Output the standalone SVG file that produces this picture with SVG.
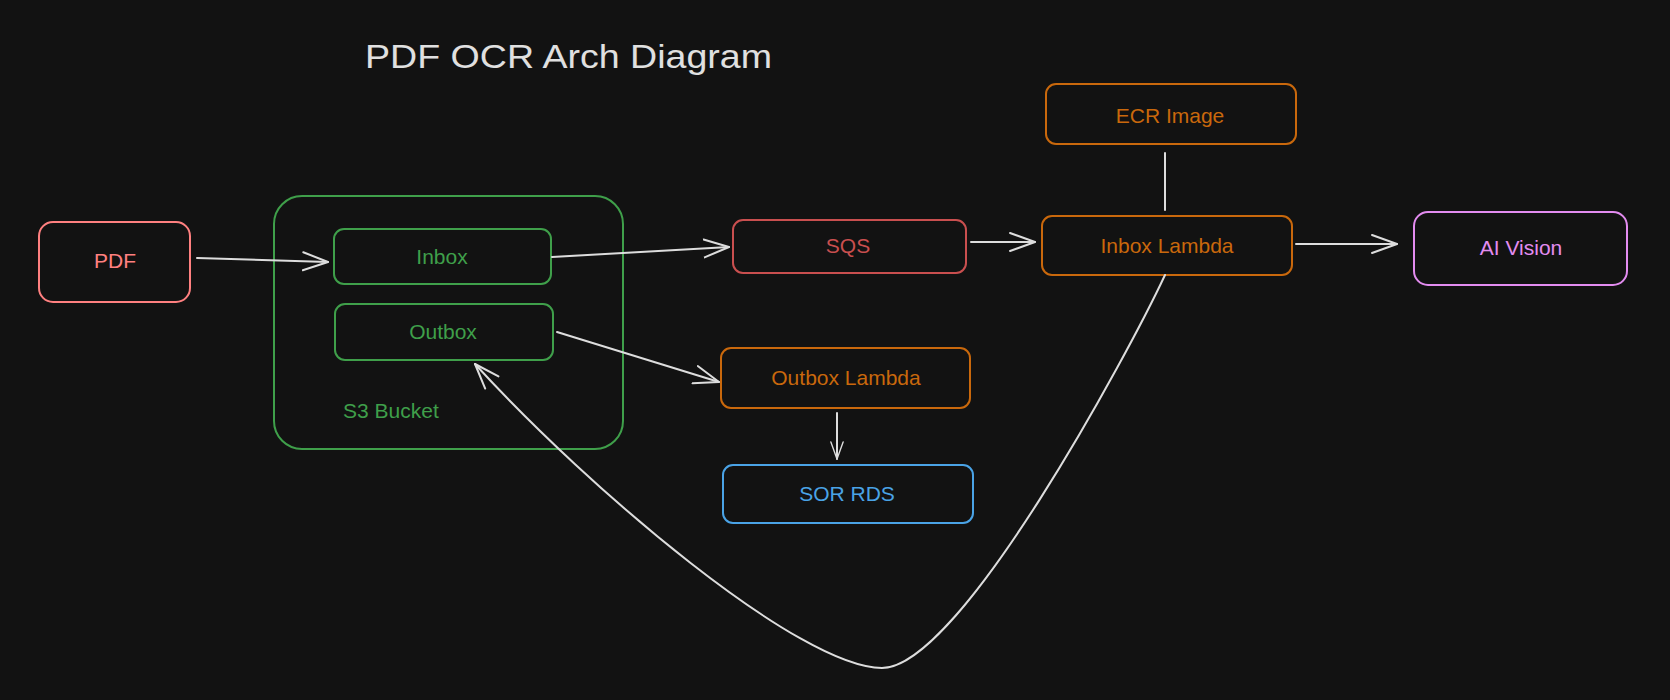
<svg xmlns="http://www.w3.org/2000/svg" width="1670" height="700" viewBox="0 0 1670 700">
<defs>
<style>
.box{fill:none;stroke-width:2}
.lbl{font-family:"Liberation Sans","DejaVu Sans",sans-serif;font-size:21px;text-anchor:middle}
.title{font-family:"Liberation Sans","DejaVu Sans",sans-serif;font-size:34px;fill:#e0e0e0}
.conn{fill:none;stroke:#dddddd;stroke-width:2;stroke-linecap:round}
.pink{stroke:#ff8080}.pinkt{fill:#ff8080}
.green{stroke:#3f9f4a}.greent{fill:#3f9f4a}
.red{stroke:#c94f4f}.redt{fill:#c94f4f}
.orange{stroke:#c9680c}.oranget{fill:#c9680c}
.violet{stroke:#e38cf0}.violett{fill:#e38cf0}
.blue{stroke:#4aa3e6}.bluet{fill:#4aa3e6}
</style>
<marker id="arrow" viewBox="0 0 28 22" refX="26" refY="11" markerWidth="28" markerHeight="22" markerUnits="userSpaceOnUse" orient="auto">
<path d="M1,2 L26,11 L1,20" fill="none" stroke="#dddddd" stroke-width="2" stroke-linecap="round" stroke-linejoin="round"/>
</marker>
<marker id="arrowS" viewBox="0 0 28 22" refX="26" refY="11" markerWidth="22" markerHeight="15" markerUnits="userSpaceOnUse" orient="auto">
<path d="M1,2 L26,11 L1,20" fill="none" stroke="#dddddd" stroke-width="2" stroke-linecap="round" stroke-linejoin="round"/>
</marker>
</defs>
<rect x="0" y="0" width="1670" height="700" fill="#121212"/>
<text class="title" x="365" y="68" textLength="407" lengthAdjust="spacingAndGlyphs">PDF OCR Arch Diagram</text>

<g id="s3-bucket">
<rect class="box green" x="274" y="196" width="349" height="253" rx="28"/>
<text class="lbl greent" x="343" y="418" style="text-anchor:start">S3 Bucket</text>
</g>
<g id="pdf">
<rect class="box pink" x="39" y="222" width="151" height="80" rx="14"/>
<text class="lbl pinkt" x="115" y="268">PDF</text>
</g>
<g id="inbox">
<rect class="box green" x="334" y="229" width="217" height="55" rx="10"/>
<text class="lbl greent" x="442" y="264">Inbox</text>
</g>
<g id="outbox">
<rect class="box green" x="335" y="304" width="218" height="56" rx="10"/>
<text class="lbl greent" x="443" y="339">Outbox</text>
</g>
<g id="sqs">
<rect class="box red" x="733" y="220" width="233" height="53" rx="10"/>
<text class="lbl redt" x="848" y="253">SQS</text>
</g>
<g id="ecr-image">
<rect class="box orange" x="1046" y="84" width="250" height="60" rx="10"/>
<text class="lbl oranget" x="1170" y="123">ECR Image</text>
</g>
<g id="inbox-lambda">
<rect class="box orange" x="1042" y="216" width="250" height="59" rx="10"/>
<text class="lbl oranget" x="1167" y="253">Inbox Lambda</text>
</g>
<g id="ai-vision">
<rect class="box violet" x="1414" y="212" width="213" height="73" rx="14"/>
<text class="lbl violett" x="1521" y="255">AI Vision</text>
</g>
<g id="outbox-lambda">
<rect class="box orange" x="721" y="348" width="249" height="60" rx="10"/>
<text class="lbl oranget" x="846" y="385">Outbox Lambda</text>
</g>
<g id="sor-rds">
<rect class="box blue" x="723" y="465" width="250" height="58" rx="10"/>
<text class="lbl bluet" x="847" y="501">SOR RDS</text>
</g>

<g id="connectors">
<path class="conn" d="M197,258 L328,262" stroke-width="3" marker-end="url(#arrow)"/>
<path class="conn" d="M552,257 L729,247" marker-end="url(#arrow)"/>
<path class="conn" d="M971,242 L1035,242" marker-end="url(#arrow)"/>
<path class="conn" d="M1296,244 L1397,244" marker-end="url(#arrow)"/>
<path class="conn" d="M1165,153 L1165,210"/>
<path class="conn" d="M557,332 L719,382" marker-end="url(#arrow)"/>
<path class="conn" d="M837,413 L837,459" stroke-width="1.5" marker-end="url(#arrowS)"/>
<path class="conn" d="M1165,275 C1130,350 960,668 882,668 C800,668 590,490 475,364" marker-end="url(#arrow)"/>
</g>
</svg>
